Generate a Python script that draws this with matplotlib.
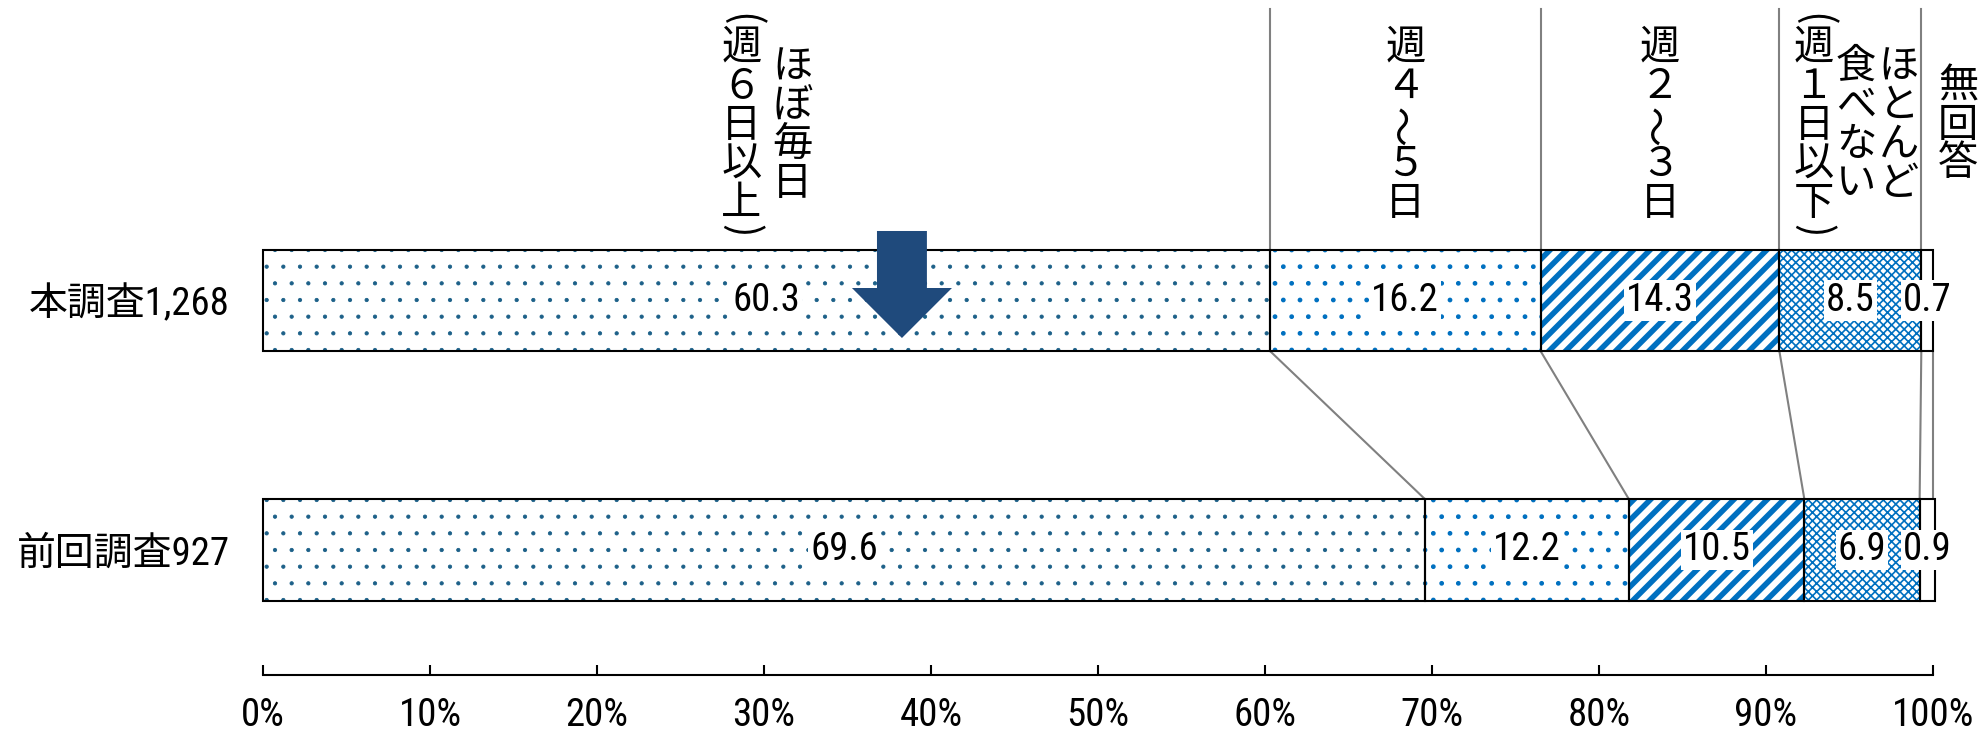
import numpy as np
import matplotlib.pyplot as plt

plt.rcParams['font.family'] = ['Roboto Condensed', 'Noto Sans CJK JP', 'DejaVu Sans']

groups = ['本調査1,268', '前回調査927']
categories = ['ほぼ毎日（週６日以上）', '週４～５日', '週２～３日', 'ほとんど食べない（週１日以下）', '無回答']
current = [60.3, 16.2, 14.3, 8.5, 0.7]
previous = [69.6, 12.2, 10.5, 6.9, 0.9]
ticks = [0, 10, 20, 30, 40, 50, 60, 70, 80, 90, 100]

# header text split into vertical columns (right to left), with x offsets in %
header_cols = [
    [('ほぼ毎日', 1.55), ('（週６日以上）', -1.5)],
    [('週４～５日', 0.0)],
    [('週２～３日', 0.0)],
    [('ほとんど', 2.9), ('食べない', 0.35), ('（週１日以下）', -2.2)],
    [('無回答', 1.85)],
]

styles = [
    dict(hatch='.', color='#1C6088', lw=0.6),
    dict(hatch='.', color='#0070C0', lw=1.0),
    dict(hatch='//', color='#0070C0', lw=4.0),
    dict(hatch='xxxx', color='#0070C0', lw=1.2),
    dict(hatch=None, color='white', lw=1.0),
]

bar_h = 0.405
fig = plt.figure(figsize=(19.87, 7.38), dpi=100)
ax = fig.add_axes([263 / 1987, 63 / 738, 1670 / 1987, 675 / 738])
ax.set_xlim(0, 100)
ax.set_ylim(1.501, -1.2044)


def draw_bar(y, vals):
    left = 0
    for v, st in zip(vals, styles):
        with plt.rc_context({'hatch.linewidth': st['lw']}):
            b = ax.barh(y, v, left=left, height=bar_h, color='white',
                        edgecolor=st['color'], hatch=st['hatch'], linewidth=0,
                        clip_on=False, zorder=2)
        for p in b.patches:
            if hasattr(p, 'set_hatch_linewidth'):
                p.set_hatch_linewidth(st['lw'])
        ax.barh(y, v, left=left, height=bar_h, fill=False, edgecolor='black',
                linewidth=1.5, clip_on=False, zorder=3)
        ax.text(left + v / 2, y, f'{v:.1f}', ha='center', va='center',
                fontsize=28, zorder=5,
                bbox=dict(facecolor='white', edgecolor='none', pad=1.5))
        left += v


def vertical_text(x, y, s):
    # stack characters top to bottom, parentheses take a short slot
    slots = [16 if c in '（）' else 39 for c in s]
    pos = -sum(slots) / 2
    for c, h in zip(s, slots):
        mid = pos + h / 2
        rot = 0
        if c == '（':
            c, rot = '(', -90
        elif c == '）':
            c, rot = ')', -90
        elif c == '～':
            rot = 90
        ax.annotate(c, xy=(x, y), xytext=(0, -mid * 0.72), textcoords='offset points',
                    ha='center', va='center', rotation=rot, fontsize=29,
                    family=['Noto Sans CJK JP', 'DejaVu Sans'], annotation_clip=False)
        pos += h


draw_bar(0, current)
draw_bar(1, previous)

# connecting lines between the two bars
cum_c = np.cumsum(current)
cum_p = np.minimum(np.cumsum(previous), 100)
for a, b in zip(cum_c, cum_p):
    ax.plot([a, b], [bar_h / 2, 1 - bar_h / 2], color='#808080', lw=1.5, zorder=1,
            clip_on=False)

# vertical guide lines above the top bar
for a in cum_c[:-1]:
    ax.plot([a, a], [-1.168, -bar_h / 2], color='#808080', lw=1.5, zorder=1)

# header labels in vertical writing
starts = np.concatenate([[0], cum_c[:-1]])
mids = starts + np.array(current) / 2
for m, cols in zip(mids, header_cols):
    for s, dx in cols:
        vertical_text(m + dx, -0.7034, s)

# arrow
ax.arrow(38.26, -0.2786, 0, 0.4289, width=2.99, head_width=5.99,
         head_length=0.2004, length_includes_head=True,
         facecolor='#1F4A7C', edgecolor='none', zorder=6)

ax.set_yticks([0, 1], groups)
ax.set_xticks(ticks, [f'{t}%' for t in ticks])
ax.tick_params(axis='y', length=0, pad=24, labelsize=28)
ax.tick_params(axis='x', direction='in', length=7.5, width=1.5, pad=16, labelsize=28)
for side in ['left', 'top', 'right']:
    ax.spines[side].set_visible(False)
ax.spines['bottom'].set_linewidth(1.5)

fig.savefig('out.png', dpi=100)
